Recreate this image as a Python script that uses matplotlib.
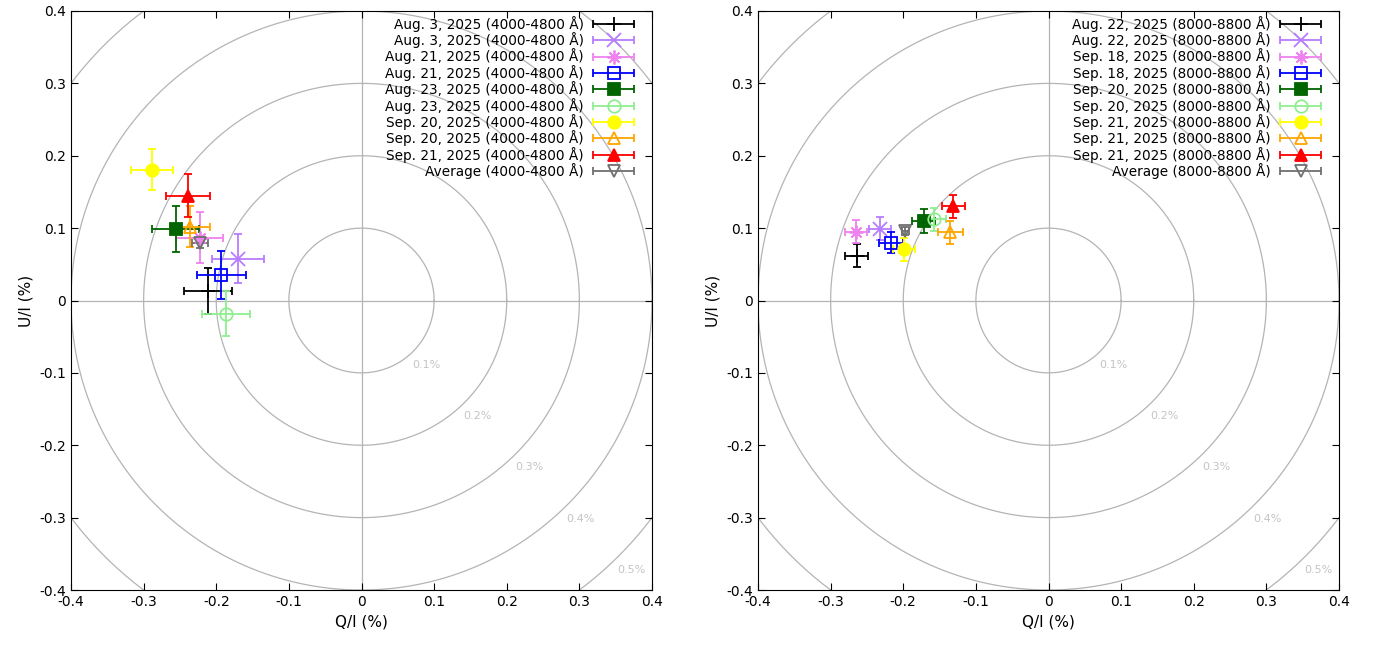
import numpy as np
import matplotlib
matplotlib.use("Agg")
from matplotlib import pyplot as plt
from matplotlib.legend_handler import HandlerErrorbar
from matplotlib.ticker import FuncFormatter

# *** data: left panel (4000-4800 A) ***
labels_b = ["Aug. 3, 2025 (4000-4800 Å)", "Aug. 3, 2025 (4000-4800 Å)",
            "Aug. 21, 2025 (4000-4800 Å)", "Aug. 21, 2025 (4000-4800 Å)",
            "Aug. 23, 2025 (4000-4800 Å)", "Aug. 23, 2025 (4000-4800 Å)",
            "Sep. 20, 2025 (4000-4800 Å)", "Sep. 20, 2025 (4000-4800 Å)",
            "Sep. 21, 2025 (4000-4800 Å)", "Average (4000-4800 Å)"]
q_b = [-0.212, -0.170, -0.223, -0.193, -0.256, -0.187, -0.289, -0.236, -0.239, -0.223]
u_b = [0.013, 0.058, 0.087, 0.035, 0.099, -0.018, 0.181, 0.102, 0.145, 0.080]
qerr_b = [0.033, 0.036, 0.032, 0.034, 0.032, 0.033, 0.029, 0.028, 0.030, 0.011]
uerr_b = [0.032, 0.034, 0.035, 0.033, 0.032, 0.031, 0.029, 0.028, 0.030, 0.008]

# *** data: right panel (8000-8800 A) ***
labels_r = ["Aug. 22, 2025 (8000-8800 Å)", "Aug. 22, 2025 (8000-8800 Å)",
            "Sep. 18, 2025 (8000-8800 Å)", "Sep. 18, 2025 (8000-8800 Å)",
            "Sep. 20, 2025 (8000-8800 Å)", "Sep. 20, 2025 (8000-8800 Å)",
            "Sep. 21, 2025 (8000-8800 Å)", "Sep. 21, 2025 (8000-8800 Å)",
            "Sep. 21, 2025 (8000-8800 Å)", "Average (8000-8800 Å)"]
q_r = [-0.264, -0.232, -0.265, -0.217, -0.172, -0.158, -0.199, -0.135, -0.131, -0.197]
u_r = [0.062, 0.099, 0.095, 0.080, 0.110, 0.112, 0.071, 0.094, 0.130, 0.096]
qerr_r = [0.016, 0.015, 0.015, 0.016, 0.016, 0.017, 0.015, 0.017, 0.016, 0.005]
uerr_r = [0.016, 0.016, 0.016, 0.015, 0.017, 0.016, 0.016, 0.016, 0.016, 0.005]

colors = ["black", "#b77cff", "#ee82ee", "blue", "#006400", "#90ee90",
          "#ffff00", "#ffa500", "red", "#707070"]
markers = ["+", "x", (8, 2, 0), "s", "s", "o", "o", "^", "^", "v"]
filled = [True, True, True, False, True, False, True, False, True, False]

radii = [0.1, 0.2, 0.3, 0.4, 0.5]
ring_labels = ["0.1%", "0.2%", "0.3%", "0.4%", "0.5%"]

plt.rcParams['font.family'] = ['DejaVu Sans']
fig = plt.figure(figsize=(13.74, 6.46), dpi=100)
ax1 = fig.add_axes([71/1374, 56/646, 581/1374, 579/646])
ax2 = fig.add_axes([758/1374, 56/646, 581/1374, 579/646])


def tick_fmt(v, p):
    v = round(v, 1)
    if abs(v) < 1e-9:
        return "0"
    return "%g" % v


def draw_panel(ax, q, u, qerr, uerr, labels):
    t = np.linspace(0, 2*np.pi, 721)
    for r, lab in zip(radii, ring_labels):
        ax.plot(r*np.cos(t), r*np.sin(t), color="#b4b4b4", lw=0.9, zorder=1)
        d = (r + 0.026) / np.sqrt(2)
        ax.text(d, -d, lab, color="#c4c4c4", fontsize=8, ha="center", va="center", zorder=1)
    ax.axhline(0, color="#b4b4b4", lw=0.9, zorder=1)
    ax.axvline(0, color="#b4b4b4", lw=0.9, zorder=1)

    handles = []
    for i in range(len(q)):
        mfc = colors[i] if filled[i] else "none"
        ms = 9 if markers[i] not in ["+", "x", (8, 2, 0)] else 10
        ax.errorbar(q[i], u[i], xerr=qerr[i], yerr=uerr[i], fmt="none",
                    ecolor=colors[i], elinewidth=1.3, capsize=3, capthick=1.3, zorder=3)
        ax.plot(q[i], u[i], linestyle="none", marker=markers[i], markersize=ms,
                markerfacecolor=mfc, markeredgecolor=colors[i], markeredgewidth=1.3, zorder=4)
        # legend proxy (gnuplot style sample)
        h = ax.errorbar([np.nan], [np.nan], xerr=[0.01], fmt="none", ecolor=colors[i],
                        elinewidth=1.3, capsize=3, capthick=1.3)
        hl = ax.plot([np.nan], [np.nan], linestyle="none", marker=markers[i], markersize=ms,
                     markerfacecolor=mfc, markeredgecolor=colors[i], markeredgewidth=1.3)[0]
        handles.append((h, hl))

    ax.legend(handles, labels, loc="upper right", bbox_to_anchor=(1 - 13/581, 1),
              frameon=False, markerfirst=False, fontsize=9.8, handlelength=3.0,
              handletextpad=0.7, labelspacing=0.03, borderaxespad=0, borderpad=0.35,
              handler_map={type(handles[0][0]): HandlerErrorbar(xerr_size=1.5)})

    ax.set_xlim(-0.4, 0.4)
    ax.set_ylim(-0.4, 0.4)
    ticks = np.round(np.arange(-0.4, 0.41, 0.1), 1)
    ax.set_xticks(ticks)
    ax.set_yticks(ticks)
    ax.xaxis.set_major_formatter(FuncFormatter(tick_fmt))
    ax.yaxis.set_major_formatter(FuncFormatter(tick_fmt))
    ax.tick_params(direction="in", top=True, right=True, length=5, labelsize=10)
    ax.set_xlabel("Q/I (%)", fontsize=11)
    ax.set_ylabel("U/I (%)", fontsize=11)


draw_panel(ax1, q_b, u_b, qerr_b, uerr_b, labels_b)
draw_panel(ax2, q_r, u_r, qerr_r, uerr_r, labels_r)

plt.savefig("out.png", dpi=100)
